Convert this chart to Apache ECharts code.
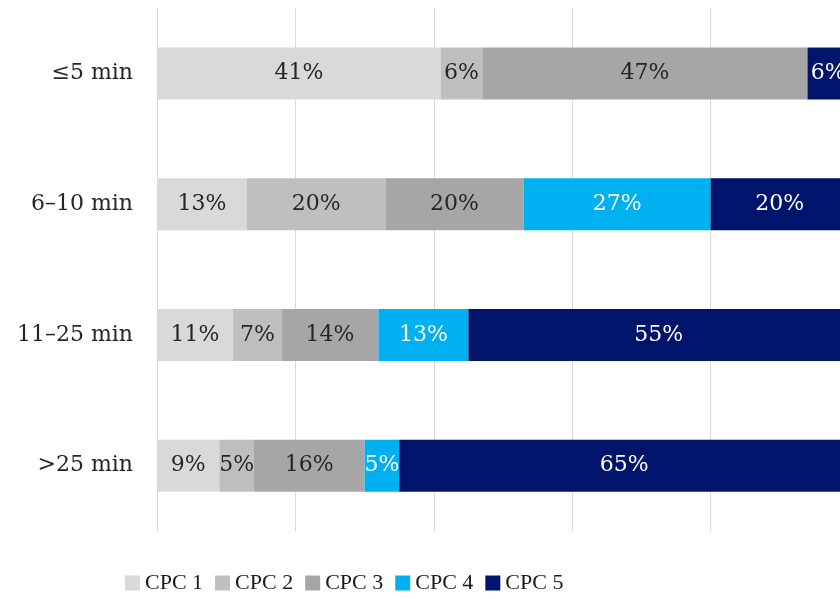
<!DOCTYPE html>
<html>
<head>
<meta charset="utf-8">
<script src="https://cdn.jsdelivr.net/npm/echarts@6/dist/echarts.min.js"></script>
<style>
  html, body { margin: 0; padding: 0; background: #fff; }
  #chart { width: 840px; height: 599px; }
</style>
</head>
<body>
<div id="chart"></div>
<script>
// 类别（从上到下）
var categories = ['≤5 min', '6–10 min', '11–25 min', '>25 min'];
var seriesNames = ['CPC 1', 'CPC 2', 'CPC 3', 'CPC 4', 'CPC 5'];
var cpc1 = [41, 13, 11, 9];
var cpc2 = [6, 20, 7, 5];
var cpc3 = [47, 20, 14, 16];
var cpc4 = [0, 27, 13, 5];
var cpc5 = [6, 20, 55, 65];
var colors = ['#d9d9d9', '#bfbfbf', '#a6a6a6', '#00b0f0', '#00146b'];
var labelColors = ['#262626', '#262626', '#262626', '#ffffff', '#ffffff'];

var chart = echarts.init(document.getElementById('chart'));

var allData = [cpc1, cpc2, cpc3, cpc4, cpc5];
var series = [];
for (var i = 0; i < seriesNames.length; i++) {
    series.push({
        name: seriesNames[i],
        type: 'bar',
        stack: 'total',
        barWidth: 52,
        data: allData[i],
        itemStyle: { color: colors[i] },
        label: {
            show: true,
            position: 'inside',
            color: labelColors[i],
            fontFamily: 'DejaVu Serif',
            fontSize: 22,
            formatter: function (p) { return p.value ? p.value + '%' : ''; }
        }
    });
}

var option = {
    animation: false,
    color: colors,
    // 右侧超出画布，100% 处在画布外
    grid: { left: 157, width: 692, top: 8, bottom: 68, outerBoundsMode: 'none' },
    legend: {
        data: seriesNames,
        left: 120,
        bottom: 0,
        icon: 'rect',
        itemWidth: 15,
        itemHeight: 15,
        itemGap: 12,
        textStyle: { fontFamily: 'Liberation Serif', fontSize: 22, color: '#1a1a1a' }
    },
    xAxis: {
        type: 'value',
        min: 0,
        max: 100,
        interval: 20,
        axisLabel: { show: false },
        axisLine: { show: false },
        axisTick: { show: false },
        splitLine: { lineStyle: { color: '#d9d9d9', width: 1 } }
    },
    yAxis: {
        type: 'category',
        inverse: true,
        data: categories,
        axisLine: { show: false },
        axisTick: { show: false },
        axisLabel: {
            fontFamily: 'DejaVu Serif',
            fontSize: 22,
            color: '#262626',
            margin: 24
        }
    },
    series: series
};

chart.setOption(option);
</script>
</body>
</html>
